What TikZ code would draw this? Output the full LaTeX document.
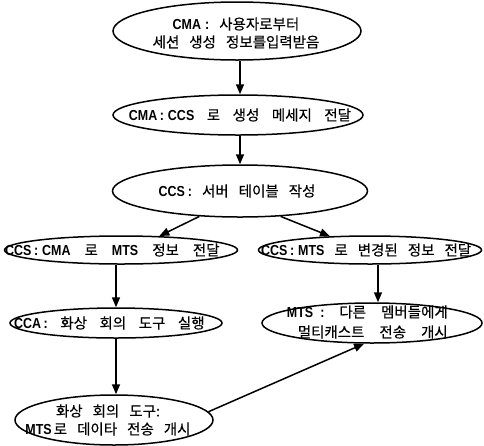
\documentclass[tikz,border=0pt]{standalone}
\usepackage{fontspec}
\setmainfont[FakeBold=0.4]{Noto Sans CJK KR}
\newfontfamily\latf[FakeStretch=0.86]{Liberation Sans}
\newcommand\lt[1]{{\latf\bfseries #1}}
\newcommand\cl{\hspace{2.5pt}:\hspace{4pt}}
\newcommand\kfont{\fontsize{14.5}{18}\selectfont\setlength{\spaceskip}{10pt plus 1pt minus 1pt}}
\newcommand\kfontw{\fontsize{14.5}{18}\selectfont\setlength{\spaceskip}{12.5pt plus 1pt minus 1pt}}
\newcommand\kfontx{\fontsize{14.5}{18}\selectfont\setlength{\spaceskip}{14pt plus 1pt minus 1pt}}
\newcommand\kfontb{\fontsize{14.5}{20}\selectfont\setlength{\spaceskip}{15pt plus 1pt minus 1pt}}
\usetikzlibrary{arrows.meta,shapes.geometric}
\begin{document}
\begin{tikzpicture}[x=1pt,y=-1pt,
  ell/.style={draw, ellipse, line width=1.5pt, inner sep=0pt},
  txt/.style={font=\kfont, align=center, inner sep=0pt},
  arr/.style={line width=1.5pt, -{Triangle[length=10pt,width=8pt]}}]
\useasboundingbox (0,0) rectangle (484,445);
\node[ell, minimum width=248pt, minimum height=58pt] (e1) at (237,31) {};
\node[txt] (t1) at (236,33) {\lt{CMA\hspace{4pt}:} 사용자로부터\\세션 생성 정보를입력받음};
\node[ell, minimum width=250pt, minimum height=40pt] (e2) at (238,115) {};
\node[txt, font=\kfontw] (t2) at (240,115) {\lt{CMA\cl CCS} 로 생성 메세지 전달};
\node[ell, minimum width=255pt, minimum height=52pt] (e3) at (240,191) {};
\node[txt] (t3) at (237,191) {\lt{CCS\hspace{3pt}:} 서버 테이블 작성};
\node[ell, minimum width=233pt, minimum height=28pt] (e4) at (121,250) {};
\node[txt, font=\kfontx, anchor=west] (t4) at (5,250) {\lt{CCS\cl CMA} 로 \lt{MTS} 정보 전달};
\node[ell, minimum width=223pt, minimum height=28pt] (e5) at (370,250) {};
\node[txt, anchor=west] (t5) at (261,250) {\lt{CCS\cl MTS} 로 변경된 정보 전달};
\node[ell, minimum width=212pt, minimum height=30pt] (e6) at (116,323) {};
\node[txt, font=\kfontw, anchor=west] (t6) at (14,323) {\lt{CCA\hspace{2.5pt}:} 화상 회의 도구 실행};
\node[ell, minimum width=198pt, minimum height=50pt] (e7) at (114,420) {};
\node[txt] (t7) at (108,420) {화상 회의 도구:\\\lt{MTS}\hspace{2pt}로 데이타 전송 개시};
\node[ell, minimum width=220pt, minimum height=40pt] (e8) at (372,323) {};
\node[txt, font=\kfontb, align=right, anchor=east] (t8) at (448,322) {\lt{MTS\hspace{7pt}:} 다른 멤버들에게\\멀티캐스트 전송 개시};
\draw[arr] (e1.south -| e3.north) -- (e2.north -| e3.north);
\draw[arr] (e2.south -| e3.north) -- (e3.north);
\draw[arr] (e3.212) -- (e4.20);
\draw[arr] (e3.328) -- (e5.161);
\draw[arr] (e4.south -| e6.north) -- (e6.north);
\draw[arr] (e6.south) -- (e6.south |- e7.north);
\draw[arr] ([xshift=8pt]e5.south) -- ([xshift=6pt]e8.north);
\draw[arr] (e7.5) -- (e8.249);
\end{tikzpicture}
\end{document}
